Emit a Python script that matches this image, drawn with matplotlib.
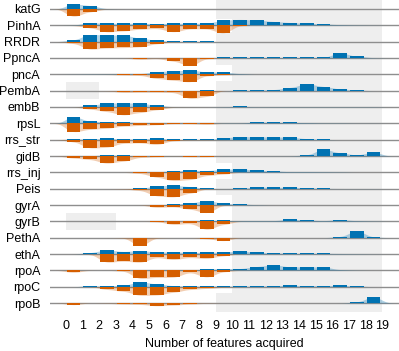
import numpy as np
import matplotlib
matplotlib.use("Agg")
import matplotlib.pyplot as plt
from matplotlib.patches import Rectangle

plt.rcParams['font.family'] = ['Liberation Sans', 'DejaVu Sans']

genes = ["katG", "PinhA", "RRDR", "PpncA", "pncA", "PembA", "embB", "rpsL",
         "rrs_str", "gidB", "rrs_inj", "Peis", "gyrA", "gyrB", "PethA", "ethA",
         "rpoA", "rpoC", "rpoB"]
n_features = list(range(20))

# relative frequency (0-25 scale) above baseline, positions 0..18
blue_vals = [
    [15, 10, 1, 0, 0, 0, 0, 0, 0, 0, 0, 0, 0, 0, 0, 0, 0, 0, 0],          # katG
    [1, 8, 6, 6, 6, 5, 6, 6, 6, 15, 17, 15, 11, 8, 6, 4, 2, 1, 0.5],     # PinhA
    [5, 21, 19, 19, 10, 4, 1, 1, 0.5, 0, 0, 0, 0, 0, 0, 0, 0, 0, 0],     # RRDR
    [0, 0, 0, 0, 0, 0, 0, 0, 0, 1.5, 1.5, 1.5, 1.5, 1.5, 1.5, 1.5, 15, 5, 1],  # PpncA
    [0.5, 1, 1.5, 2, 2, 8, 10, 12, 7, 7, 2, 0, 0, 0, 0, 0, 0, 0, 0],     # pncA
    [0, 0, 0, 0, 0, 0, 0, 0, 1, 0, 1, 2, 3, 9, 20, 12, 5, 2, 0],         # PembA
    [0, 5, 11, 12, 11, 5, 1, 0.5, 0, 1, 2, 1, 1, 1, 1, 1, 1, 1, 1],      # embB
    [20, 6, 5, 4, 2, 1, 1, 1, 1, 1, 1, 4, 3, 3, 2, 1, 1, 0.5, 0.5],      # rpsL
    [2, 2, 4, 2, 2, 5, 1, 1, 1, 5, 9, 8, 8, 7, 3, 1, 0, 0, 0],           # rrs_str
    [1, 1, 3, 2, 1, 1, 1, 0, 0, 0.5, 0.5, 0.5, 0.5, 0.5, 3, 20, 9, 3, 11],  # gidB
    [0, 0, 0, 0, 0, 2, 4, 6, 5, 9, 10, 6, 4, 2, 2, 1.5, 1, 0, 0],        # rrs_inj
    [0, 0, 0, 0, 1, 8, 10, 6, 1, 0.5, 1, 5, 4, 4, 3, 1, 0.5, 0.5, 0.5],  # Peis
    [0, 0, 0, 0, 0, 0, 3, 6, 13, 5, 3, 1, 0, 0, 0, 0, 0, 0, 0],          # gyrA
    [0, 0, 0, 0, 0, 0, 0, 0, 3, 3, 2, 2, 2, 6, 4, 2, 5, 2, 1],           # gyrB
    [0, 0, 0, 0, 0, 0, 0, 0, 0, 0, 0, 0, 0, 0, 0, 0, 3, 20, 2],          # PethA
    [0, 4, 12, 7, 10, 6, 6, 5, 5, 6, 9, 5, 3, 2, 2, 2, 1.5, 1, 0.5],     # ethA
    [1, 0, 0, 0, 1, 2, 2, 2, 3, 5, 5, 11, 16, 10, 10, 10, 2, 0.5, 0],    # rpoA
    [0, 3, 2, 4, 14, 8, 3, 2, 2, 3, 1, 2, 3, 4, 3, 3, 4, 2, 0],          # rpoC
    [0, 0, 0, 0, 0, 0, 0, 0, 0, 0, 0, 0, 0, 0, 0, 0, 0, 3, 18],          # rpoB
]

# relative frequency (0-25 scale) below baseline, positions 0..18
orange_vals = [
    [22, 8, 0.5, 0, 0, 0, 0, 0, 0, 0, 0, 0, 0, 0, 0, 0, 0, 0, 0],        # katG
    [0.5, 7, 19, 16, 11, 9, 19, 10, 10, 23, 1, 0, 0, 0, 0, 0, 0, 0, 0],  # PinhA
    [5, 22, 18, 17, 15, 6, 1, 0.5, 0, 0, 0, 0, 0, 0, 0, 0, 0, 0, 0],     # RRDR
    [0, 0, 0, 0, 4, 1.5, 9, 23, 2, 1, 0, 0, 0, 0, 0, 0, 0, 0, 0],        # PpncA
    [0, 0, 0.5, 2, 3, 12, 17, 22, 4, 2, 0, 0, 0, 0, 0, 0, 0, 0, 0],      # pncA
    [0, 0, 0.5, 5, 4, 4, 5, 23, 17, 0, 0, 0, 0, 0, 0, 0, 0, 0, 0],       # PembA
    [0, 6, 13, 23, 16, 8, 1, 0.5, 0, 0, 0, 0, 0, 0, 0, 0, 0, 0, 0],      # embB
    [25, 17, 14, 8, 6, 4, 1, 1, 3, 0, 0, 0, 0, 0, 0, 0, 0, 0, 0],        # rpsL
    [6, 24, 22, 10, 9, 14, 3, 1, 1, 0, 0, 0, 0, 0, 0, 0, 0, 0, 0],       # rrs_str
    [6, 10, 21, 15, 4, 2, 1, 2, 2, 0, 0, 0, 0, 0, 0, 0, 0, 0, 0],        # gidB
    [0, 0, 0, 0, 3, 14, 24, 21, 9, 5, 0, 0, 0, 0, 0, 0, 0, 0, 0],        # rrs_inj
    [0, 0, 0, 1, 5, 21, 24, 13, 1, 0, 0, 0, 0, 0, 0, 0, 0, 0, 0],        # Peis
    [0, 0, 0, 0, 0, 7, 5, 12, 23, 1, 0, 0, 0, 0, 0, 0, 0, 0, 0],         # gyrA
    [0, 0, 0, 0, 0, 1, 9, 6, 24, 9, 0, 0, 0, 0, 0, 0, 0, 0, 0],          # gyrB
    [0, 0, 0, 1, 24, 1, 0, 0, 3, 9, 0, 0, 0, 0, 0, 0, 0, 0, 0],          # PethA
    [0, 1, 24, 20, 24, 10, 16, 10, 13, 5, 0, 0, 0, 0, 0, 0, 0, 0, 0],    # ethA
    [6, 0, 0, 2, 24, 20, 20, 6, 20, 4, 0, 0, 0, 0, 0, 0, 0, 0, 0],       # rpoA
    [0, 0, 8, 13, 25, 24, 16, 8, 5, 2, 0, 0, 0, 0, 0, 0, 0, 0, 0],       # rpoC
    [5, 0, 1, 3, 4, 8, 6, 3, 1, 0, 0, 0, 0, 0, 0, 0, 0, 0, 0],           # rpoB
]

# shaded (not reachable) ranges per gene: right block start, left block end
gray_right_start = [9, 10, 9, 9, 10, 9, 9, 9, 9, 9, 10, 9, 10, 10, 10, 10, 10, 10, 9]
gray_right_end = 19
gray_left_end = [0, 0, 0, 0, 0, 2, 0, 0, 0, 0, 0, 0, 0, 3, 0, 0, 0, 0, 0]

BLUE = "#0072B2"
ORANGE = "#D55E00"
GRAY_BG = "#eeeeee"
LINE = "#8e8e8e"

W, H = 399, 351
fig = plt.figure(figsize=(W / 100, H / 100), dpi=100)
ax = fig.add_axes([50 / W, (H - 312) / H, 349 / W, 312 / H])

scale = 0.5 / 24.5
bar_off, bar_w = 0.05, 0.83

xf = np.linspace(-1.5, 20.5, 2201)
dx = xf[1] - xf[0]
sig = 0.3
kx = np.arange(-int(4 * sig / dx), int(4 * sig / dx) + 1) * dx
kern = np.exp(-0.5 * (kx / sig) ** 2)
kern /= kern.sum()


def smooth(vals):
    idx = np.floor(xf + (0.5 - (bar_off + bar_w / 2))).astype(int)
    step = np.zeros_like(xf)
    ok = (idx >= 0) & (idx < len(vals))
    step[ok] = np.asarray(vals, float)[idx[ok]]
    return np.convolve(step, kern, mode="same")


for i, g in enumerate(genes):
    if gray_left_end[i] > 0:
        ax.add_patch(Rectangle((0, i - 0.5), gray_left_end[i], 1, facecolor=GRAY_BG,
                               lw=0, zorder=0))
    ax.add_patch(Rectangle((gray_right_start[i], i - 0.6),
                           gray_right_end - gray_right_start[i], 1.2 if i in (0, 18) else 1,
                           facecolor=GRAY_BG, lw=0, zorder=0))
    ax.axhline(i, color=LINE, lw=1.0, zorder=1)

    up = np.asarray(blue_vals[i], float) * scale
    dn = np.asarray(orange_vals[i], float) * scale
    su = smooth(up)
    sd = smooth(dn)
    ax.fill_between(xf, i, i - su * 1.05, color=BLUE, alpha=0.3, lw=0, zorder=2)
    ax.fill_between(xf, i, i + sd * 1.05, color=ORANGE, alpha=0.3, lw=0, zorder=2)
    xs = np.arange(len(up)) + bar_off
    ax.bar(xs, -up, width=bar_w, bottom=i, align="edge", color=BLUE, lw=0, zorder=3)
    ax.bar(xs, dn, width=bar_w, bottom=i, align="edge", color=ORANGE, lw=0, zorder=3)

ax.set_xlim(-0.94, 20.0)
ax.set_ylim(18.55, -0.55)
ax.set_yticks(range(len(genes)))
ax.set_yticklabels(genes, fontsize=9)
ax.set_xticks(n_features)
ax.set_xticklabels([str(v) for v in n_features], fontsize=9)
ax.tick_params(length=0, pad=6)
ax.tick_params(axis="y", pad=7)
ax.set_xlabel("Number of features acquired", fontsize=9, labelpad=4)
for s in ax.spines.values():
    s.set_visible(False)

fig.savefig("out.png", dpi=100)
